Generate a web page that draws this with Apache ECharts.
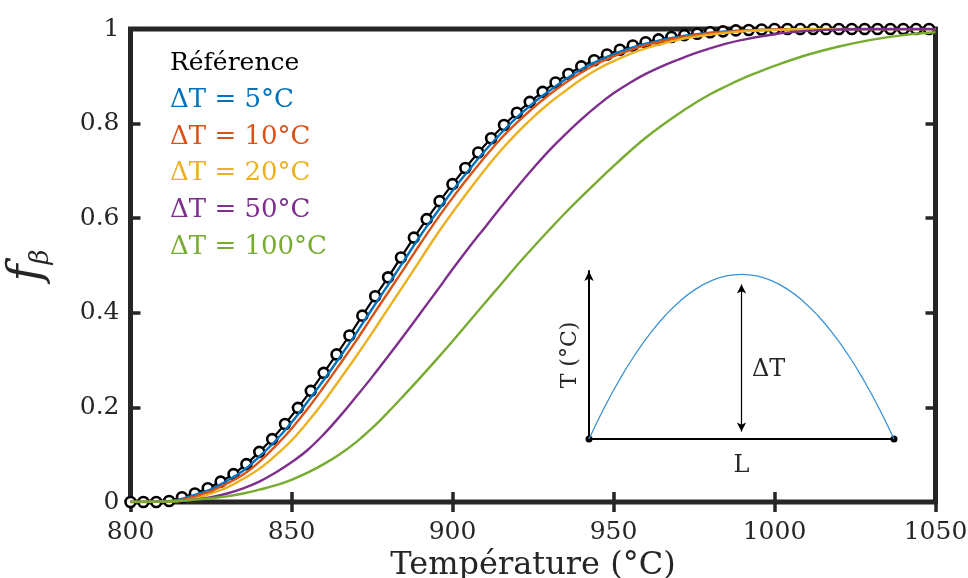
<!DOCTYPE html>
<html><head><meta charset="utf-8">
<script src="https://cdn.jsdelivr.net/npm/echarts@6/dist/echarts.min.js"></script>
<style>html,body{margin:0;padding:0;background:#fff}#c{width:968px;height:578px}</style>
</head><body><div id="c"></div>
<script>
// ---- data ----
const xTicks = [800, 850, 900, 950, 1000, 1050];
const yTicks = [0, 0.2, 0.4, 0.6, 0.8, 1];
const seriesNames = ['Référence', 'ΔT = 5°C', 'ΔT = 10°C', 'ΔT = 20°C', 'ΔT = 50°C', 'ΔT = 100°C'];
const seriesColors = ['#000000', '#0072BD', '#D95319', '#EDB120', '#7E2F8E', '#77AC30'];

const refT = [800,804,808,812,816,820,824,828,832,836,840,844,848,852,856,860,864,868,872,876,880,884,888,892,896,900,904,908,912,916,920,924,928,932,936,940,944,948,952,956,960,964,968,972,976,980,984,988,992,996,1000,1004,1008,1012,1016,1020,1024,1028,1032,1036,1040,1044,1048];
const refF = [0,0,0,0.002,0.010,0.018,0.029,0.043,0.059,0.080,0.106,0.133,0.165,0.199,0.235,0.273,0.312,0.352,0.394,0.435,0.475,0.517,0.559,0.598,0.636,0.672,0.706,0.739,0.769,0.797,0.823,0.846,0.867,0.887,0.905,0.921,0.934,0.946,0.956,0.965,0.972,0.978,0.983,0.987,0.990,0.993,0.995,0.997,0.998,0.999,1,1,1,1,1,1,1,1,1,1,1,1,1];

const dT5 = [[800,0],[810,0.001],[815,0.005],[820,0.015],[825,0.027],[830,0.045],[835,0.066],[840,0.096],[845,0.129],[850,0.168],[855,0.212],[860,0.258],[865,0.306],[870,0.356],[875,0.408],[880,0.459],[885,0.511],[890,0.563],[895,0.611],[900,0.658],[905,0.701],[910,0.742],[915,0.779],[920,0.813],[925,0.843],[930,0.869],[935,0.893],[940,0.915],[945,0.932],[950,0.947],[955,0.959],[960,0.969],[970,0.983],[980,0.992],[990,0.997],[1000,0.999],[1010,1],[1050,1]];
const dT10 = [[800,0],[810,0.001],[815,0.003],[820,0.012],[825,0.023],[830,0.039],[835,0.058],[840,0.085],[845,0.118],[850,0.155],[855,0.197],[860,0.243],[865,0.291],[870,0.340],[875,0.392],[880,0.443],[885,0.494],[890,0.546],[895,0.596],[900,0.643],[905,0.687],[910,0.729],[915,0.768],[920,0.802],[925,0.833],[930,0.861],[935,0.886],[940,0.908],[945,0.927],[950,0.942],[955,0.955],[960,0.966],[970,0.981],[980,0.991],[990,0.996],[1000,0.999],[1010,1],[1050,1]];
const dT20 = [[800,0],[810,0.001],[815,0.002],[820,0.007],[825,0.018],[830,0.031],[835,0.049],[840,0.070],[845,0.098],[850,0.130],[855,0.169],[860,0.212],[865,0.259],[870,0.307],[875,0.357],[880,0.409],[885,0.460],[890,0.512],[895,0.564],[900,0.612],[905,0.658],[910,0.702],[915,0.743],[920,0.780],[925,0.813],[930,0.843],[935,0.869],[940,0.894],[945,0.915],[950,0.932],[955,0.947],[960,0.959],[970,0.977],[980,0.988],[990,0.995],[1000,0.998],[1010,1],[1050,1]];
const dT50 = [[800,0],[810,0.001],[820,0.005],[825,0.010],[830,0.018],[835,0.029],[840,0.043],[845,0.062],[850,0.084],[855,0.110],[860,0.143],[865,0.181],[870,0.222],[875,0.264],[880,0.308],[885,0.353],[890,0.399],[895,0.445],[900,0.492],[905,0.537],[910,0.580],[915,0.623],[920,0.665],[925,0.705],[930,0.743],[935,0.777],[940,0.809],[945,0.838],[950,0.864],[955,0.886],[960,0.905],[965,0.921],[970,0.935],[975,0.948],[980,0.959],[985,0.969],[990,0.977],[1000,0.989],[1010,0.996],[1020,0.999],[1030,1],[1050,1]];
const dT100 = [[800,0],[810,0.001],[815,0.002],[820,0.005],[825,0.008],[830,0.012],[835,0.018],[840,0.026],[845,0.035],[850,0.047],[855,0.062],[860,0.080],[865,0.101],[870,0.126],[875,0.156],[880,0.190],[885,0.226],[890,0.263],[895,0.301],[900,0.340],[905,0.380],[910,0.420],[915,0.460],[920,0.500],[925,0.538],[930,0.575],[935,0.611],[940,0.645],[945,0.678],[950,0.710],[955,0.741],[960,0.770],[965,0.796],[970,0.820],[975,0.842],[980,0.862],[985,0.879],[990,0.895],[995,0.909],[1000,0.922],[1010,0.945],[1020,0.963],[1030,0.977],[1040,0.987],[1050,0.993]];

// inset schematic: temperature profile along L
const insetX = [0,0.05,0.1,0.15,0.2,0.25,0.3,0.35,0.4,0.45,0.5,0.55,0.6,0.65,0.7,0.75,0.8,0.85,0.9,0.95,1];
const insetT = [0,0.19,0.36,0.51,0.64,0.75,0.84,0.91,0.96,0.99,1,0.99,0.96,0.91,0.84,0.75,0.64,0.51,0.36,0.19,0];

// ---- chart ----
const FONT = 'DejaVu Serif';
const AX = '#262626';
const chart = echarts.init(document.getElementById('c'));
const curves = [dT5, dT10, dT20, dT50, dT100];

const series = [{
  name: seriesNames[0], type: 'line', xAxisIndex: 0, yAxisIndex: 0,
  data: refT.map((t, i) => [t, refF[i]]),
  symbol: 'circle', symbolSize: 10, showAllSymbol: true,
  itemStyle: {color: '#ffffff', borderColor: '#000', borderWidth: 2.6},
  lineStyle: {color: '#000', width: 2.2}, z: 2
}];
curves.forEach((d, i) => series.push({
  name: seriesNames[i + 1], type: 'line', xAxisIndex: 0, yAxisIndex: 0,
  data: d, showSymbol: false, smooth: 0.4,
  itemStyle: {color: seriesColors[i + 1]},
  lineStyle: {color: seriesColors[i + 1], width: 2.4}, z: 3
}));
series.push({
  name: 'profil', type: 'line', xAxisIndex: 2, yAxisIndex: 2,
  data: insetX.map((x, i) => [x, insetT[i]]),
  showSymbol: false, smooth: true, silent: true,
  lineStyle: {color: '#3a93d8', width: 1.3}, z: 5,
  markLine: {
    silent: true, symbol: ['arrow', 'arrow'], symbolSize: [7, 9],
    lineStyle: {color: '#000', width: 1.2, type: 'solid'}, label: {show: false},
    data: [[{coord: [0.5, 0.045]}, {coord: [0.5, 0.938]}]]
  }
});

const tickStyle = {inside: true, length: 10, lineStyle: {color: AX, width: 3.5}};
const plain = v => String(v);
const option = {
  animation: false,
  backgroundColor: '#ffffff',
  grid: [
    {left: 130.5, top: 29, width: 805, height: 473, show: true, borderColor: AX, borderWidth: 5,
     backgroundColor: 'transparent', containLabel: false, outerBoundsMode: 'none'},
    {left: 589, top: 271, width: 305, height: 168, containLabel: false, outerBoundsMode: 'none'}
  ],
  legend: {
    orient: 'vertical', left: 159, top: 40.5, itemGap: 0, itemWidth: 0, itemHeight: 0,
    itemStyle: {opacity: 0}, lineStyle: {opacity: 0}, selectedMode: false,
    textStyle: {fontFamily: FONT, fontSize: 26, lineHeight: 36.6},
    data: seriesNames.map((n, i) => ({name: n, icon: 'rect',
      textStyle: {color: seriesColors[i], fontSize: i === 0 ? 25 : 26, fontFamily: FONT}}))
  },
  xAxis: [
    {gridIndex: 0, type: 'value', min: xTicks[0], max: xTicks[xTicks.length - 1], interval: 50, position: 'bottom',
     axisLine: {show: false}, axisTick: tickStyle, splitLine: {show: false},
     axisLabel: {fontFamily: FONT, fontSize: 25, color: AX, margin: 18, formatter: plain},
     name: 'Température (°C)', nameLocation: 'middle', nameGap: 45,
     nameTextStyle: {fontFamily: FONT, fontSize: 32, color: AX}},
    {gridIndex: 0, type: 'value', min: xTicks[0], max: xTicks[xTicks.length - 1], interval: 50, position: 'top',
     axisLine: {show: false}, axisTick: tickStyle, splitLine: {show: false}, axisLabel: {show: false}},
    {gridIndex: 1, type: 'value', min: 0, max: 1, position: 'bottom',
     axisLine: {show: true, onZero: false, symbol: ['circle', 'circle'], symbolSize: [7, 7], lineStyle: {color: '#000', width: 2}},
     axisTick: {show: false}, axisLabel: {show: false}, splitLine: {show: false},
     name: 'L', nameLocation: 'middle', nameGap: 15,
     nameTextStyle: {fontFamily: FONT, fontSize: 24, color: AX}}
  ],
  yAxis: [
    {gridIndex: 0, type: 'value', min: yTicks[0], max: yTicks[yTicks.length - 1], interval: 0.2, position: 'left',
     axisLine: {show: false}, axisTick: tickStyle, splitLine: {show: false},
     axisLabel: {fontFamily: FONT, fontSize: 25, color: AX, margin: 11, formatter: plain},
     name: '{f|f}{b|β}', nameLocation: 'middle', nameRotate: 90, nameGap: 76,
     nameTextStyle: {color: AX, rich: {
       f: {fontFamily: FONT, fontStyle: 'italic', fontSize: 46, lineHeight: 52, color: AX},
       b: {fontFamily: FONT, fontStyle: 'italic', fontSize: 26, lineHeight: 26, verticalAlign: 'bottom', color: AX}
     }}},
    {gridIndex: 0, type: 'value', min: yTicks[0], max: yTicks[yTicks.length - 1], interval: 0.2, position: 'right',
     axisLine: {show: false}, axisTick: tickStyle, splitLine: {show: false}, axisLabel: {show: false}},
    {gridIndex: 1, type: 'value', min: 0, max: 1.02, position: 'left',
     axisLine: {show: true, onZero: false, symbol: ['none', 'arrow'], symbolSize: [7, 10], lineStyle: {color: '#000', width: 2}},
     axisTick: {show: false}, axisLabel: {show: false}, splitLine: {show: false},
     name: 'T (°C)', nameLocation: 'middle', nameRotate: 90, nameGap: 8,
     nameTextStyle: {fontFamily: FONT, fontSize: 22, color: AX}}
  ],
  graphic: [{type: 'text', left: 752, top: 358, z: 10, silent: true,
    style: {text: 'ΔT', fontFamily: FONT, fontSize: 24, fill: AX}}],
  series: series
};
chart.setOption(option);
</script>
</body></html>
